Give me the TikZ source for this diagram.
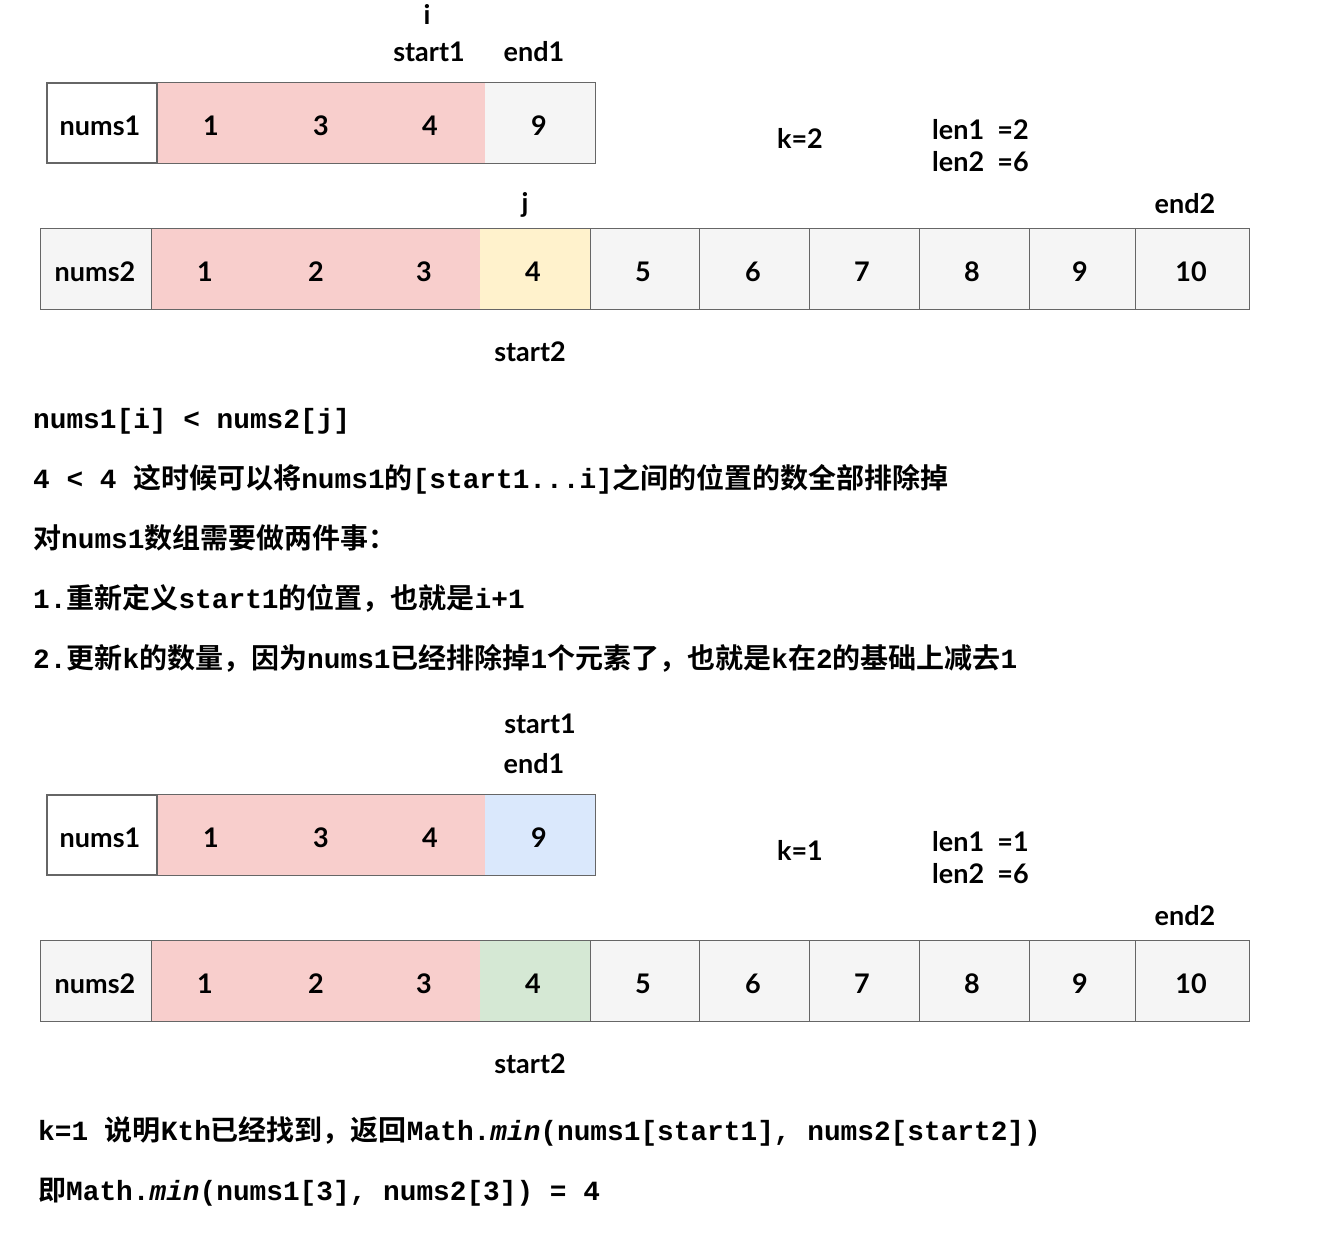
\documentclass[tikz,border=0pt]{standalone}
\usepackage{fontspec}
\setmainfont{Lato}
\newfontfamily\monof{Liberation Mono}[BoldFont={Liberation Mono Bold},BoldItalicFont={Liberation Mono Bold Italic}]
\newfontfamily\cjkf{Noto Sans CJK SC}[BoldFont={Noto Sans CJK SC Bold}]
\newcommand\zhs[1]{{\cjkf\bfseries\fontsize{28.0}{30}\selectfont #1}}
\definecolor{pinkc}{HTML}{F8CECC}
\definecolor{grayc}{HTML}{F5F5F5}
\definecolor{yelc}{HTML}{FFF2CC}
\definecolor{bluec}{HTML}{DAE8FC}
\definecolor{greenc}{HTML}{D5E8D4}
\definecolor{edgec}{HTML}{666666}
\begin{document}
\begin{tikzpicture}[x=1pt,y=-1pt,
  lbl/.style={font=\fontsize{27}{30}\selectfont\bfseries, anchor=base, inner sep=0pt},
  txt/.style={font=\monof\bfseries\fontsize{27.8}{30}\selectfont, anchor=base west, inner sep=0pt},
  cell/.style={draw=none, inner sep=0pt, minimum height=80pt},
  namebox/.style={cell, draw=edgec, line width=1.4pt, minimum width=110pt},
  outline/.style={draw=edgec, line width=1.3pt},
  sep/.style={draw=edgec, line width=1.3pt}]
\useasboundingbox (0,0) rectangle (1330,1250);

% ---------- Row 1 (nums1) ----------
\node[cell, fill=pinkc, minimum width=328pt] (r1p) at (321,123) {};
\node[cell, fill=grayc, minimum width=110pt] (r1g) at (540,123) {};
\node[namebox, fill=white] (r1n) at (102,123) {};
\draw[outline] (r1n.north west) rectangle (r1g.south east);
\draw[sep] (r1n.north east) -- (r1n.south east);
\node[lbl] (r1t) at (100,135) {nums1};
\node[lbl] (r1a) at (211,135) {1};
\node[lbl] (r1b) at (321,135) {3};
\node[lbl] (r1c) at (430,135) {4};
\node[lbl] (r1d) at (539,135) {9};
\node[lbl] (li) at (427,24) {i};
\node[lbl] (ls1) at (429,61) {start1};
\node[lbl] (le1) at (534,61) {end1};
\node[lbl] (k2) at (800,148) {k=2};
\node[lbl, anchor=base west] (len1a) at (932,139) {len1\ \ =2};
\node[lbl, anchor=base west] (len2a) at (932,171) {len2\ \ =6};

% ---------- Row 2 (nums2) ----------
\node[namebox, fill=grayc, draw=none] (r2n) at (96,269) {};
\node[cell, fill=pinkc, minimum width=329pt] (r2p) at (315.5,269) {};
\node[cell, fill=yelc, minimum width=110pt] (r2y) at (535,269) {};
\node[cell, fill=grayc, minimum width=109pt] (r2c5) at (644.5,269) {};
\node[cell, fill=grayc, minimum width=110pt] (r2c6) at (754,269) {};
\node[cell, fill=grayc, minimum width=110pt] (r2c7) at (864,269) {};
\node[cell, fill=grayc, minimum width=110pt] (r2c8) at (974,269) {};
\node[cell, fill=grayc, minimum width=106pt] (r2c9) at (1082,269) {};
\node[cell, fill=grayc, minimum width=114pt] (r2c10) at (1192,269) {};
\draw[outline] (r2n.north west) rectangle (r2c10.south east);
\foreach \c in {r2n,r2y,r2c5,r2c6,r2c7,r2c8,r2c9}
  \draw[sep] (\c.north east) -- (\c.south east);
\node[lbl] (r2t) at (95,281) {nums2};
\node[lbl] (r2a) at (205,281) {1};
\node[lbl] (r2b) at (316,281) {2};
\node[lbl] (r2d) at (424,281) {3};
\node[lbl] (r2e) at (533,281) {4};
\node[lbl] (r2f) at (643,281) {5};
\node[lbl] (r2g) at (753,281) {6};
\node[lbl] (r2h) at (862,281) {7};
\node[lbl] (r2i) at (972,281) {8};
\node[lbl] (r2j) at (1080,281) {9};
\node[lbl] (r2k) at (1191,281) {10};
\node[lbl] (lj) at (525,212) {j};
\node[lbl] (le2) at (1185,213) {end2};
\node[lbl] (ls2) at (530,361) {start2};

% ---------- Explanation ----------
\node[txt] (t1) at (33,428) {nums1[i] < nums2[j]};
\node[txt] (t2) at (33,488) {4 < 4 \zhs{这时候可以将}nums1\zhs{的}[start1...i]\zhs{之间的位置的数全部排除掉}};
\node[txt] (t3) at (33,548) {\zhs{对}nums1\zhs{数组需要做两件事：}};
\node[txt] (t4) at (33,608) {1.\zhs{重新定义}start1\zhs{的位置，也就是}i+1};
\node[txt] (t5) at (33,668) {2.\zhs{更新}k\zhs{的数量，因为}nums1\zhs{已经排除掉}1\zhs{个元素了，也就是}k\zhs{在}2\zhs{的基础上减去}1};

% ---------- Row 3 (nums1 after) ----------
\node[cell, fill=pinkc, minimum width=328pt] (r3p) at (321,835) {};
\node[cell, fill=bluec, minimum width=110pt] (r3g) at (540,835) {};
\node[namebox, fill=white] (r3n) at (102,835) {};
\draw[outline] (r3n.north west) rectangle (r3g.south east);
\draw[sep] (r3n.north east) -- (r3n.south east);
\node[lbl] (r3t) at (100,847) {nums1};
\node[lbl] (r3a) at (211,847) {1};
\node[lbl] (r3b) at (321,847) {3};
\node[lbl] (r3c) at (430,847) {4};
\node[lbl] (r3d) at (539,847) {9};
\node[lbl] (ls1b) at (540,733) {start1};
\node[lbl] (le1b) at (534,773) {end1};
\node[lbl] (k1) at (800,860) {k=1};
\node[lbl, anchor=base west] (len1b) at (932,851) {len1\ \ =1};
\node[lbl, anchor=base west] (len2b) at (932,883) {len2\ \ =6};

% ---------- Row 4 (nums2 after) ----------
\node[namebox, fill=grayc, draw=none] (r4n) at (96,981) {};
\node[cell, fill=pinkc, minimum width=329pt] (r4p) at (315.5,981) {};
\node[cell, fill=greenc, minimum width=110pt] (r4y) at (535,981) {};
\node[cell, fill=grayc, minimum width=109pt] (r4c5) at (644.5,981) {};
\node[cell, fill=grayc, minimum width=110pt] (r4c6) at (754,981) {};
\node[cell, fill=grayc, minimum width=110pt] (r4c7) at (864,981) {};
\node[cell, fill=grayc, minimum width=110pt] (r4c8) at (974,981) {};
\node[cell, fill=grayc, minimum width=106pt] (r4c9) at (1082,981) {};
\node[cell, fill=grayc, minimum width=114pt] (r4c10) at (1192,981) {};
\draw[outline] (r4n.north west) rectangle (r4c10.south east);
\foreach \c in {r4n,r4y,r4c5,r4c6,r4c7,r4c8,r4c9}
  \draw[sep] (\c.north east) -- (\c.south east);
\node[lbl] (r4t) at (95,993) {nums2};
\node[lbl] (r4a) at (205,993) {1};
\node[lbl] (r4b) at (316,993) {2};
\node[lbl] (r4d) at (424,993) {3};
\node[lbl] (r4e) at (533,993) {4};
\node[lbl] (r4f) at (643,993) {5};
\node[lbl] (r4g) at (753,993) {6};
\node[lbl] (r4h) at (862,993) {7};
\node[lbl] (r4i) at (972,993) {8};
\node[lbl] (r4j) at (1080,993) {9};
\node[lbl] (r4k) at (1191,993) {10};
\node[lbl] (le2b) at (1185,925) {end2};
\node[lbl] (ls2b) at (530,1073) {start2};

% ---------- Conclusion ----------
\node[txt] (t6) at (38,1140) {k=1 \zhs{说明}Kth\zhs{已经找到，返回}Math.\textit{min}(nums1[start1], nums2[start2])};
\node[txt] (t7) at (38,1200) {\zhs{即}Math.\textit{min}(nums1[3], nums2[3]) = 4};
\end{tikzpicture}
\end{document}
